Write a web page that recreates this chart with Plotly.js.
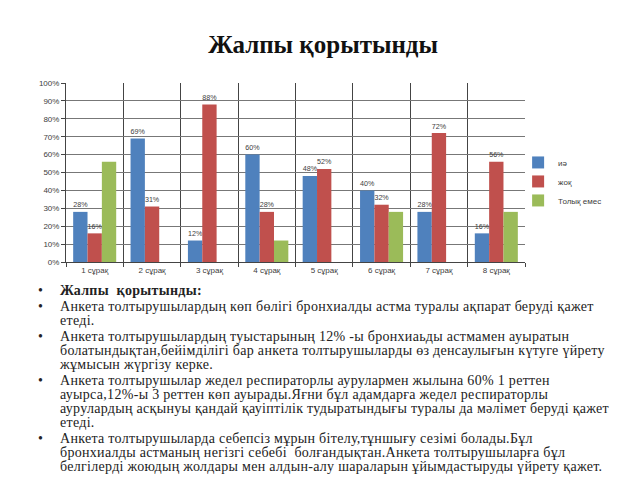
<!DOCTYPE html>
<html>
<head>
<meta charset="utf-8">
<script src="https://cdn.plot.ly/plotly-3.0.1.min.js"></script>
<style>
  html, body { margin: 0; padding: 0; background: #fff; }
  #wrap { position: relative; width: 640px; height: 480px; overflow: hidden; }
  #chart { position: absolute; left: 0; top: 0; width: 640px; height: 480px; }
  #notes { position: absolute; left: 38px; top: 284px; width: 600px;
           font-family: "Liberation Serif", "DejaVu Serif", serif; font-size: 14px;
           letter-spacing: 0.3px; line-height: 14px; color: #222; }
  #notes .item { position: relative; padding-left: 22px; margin-bottom: 2px; white-space: nowrap; }
  #notes .item:before { content: "•"; position: absolute; left: 0; top: 0; }
</style>
</head>
<body>
<div id="wrap">
  <div id="chart"></div>
  <div id="notes"></div>
</div>
<script>
const categories = ["1 сұрақ", "2 сұрақ", "3 сұрақ", "4 сұрақ", "5 сұрақ", "6 сұрақ", "7 сұрақ", "8 сұрақ"];
const seriesNames = ["иә", "жоқ", "Толық емес"];
const yesValues = [0.28, 0.69, 0.12, 0.60, 0.48, 0.40, 0.28, 0.16];
const noValues = [0.16, 0.31, 0.88, 0.28, 0.52, 0.32, 0.72, 0.56];
const partialValues = [0.56, null, null, 0.12, null, 0.28, null, 0.28];
const titleText = "Жалпы қорытынды";
const notesLines = [
  ["<b>Жалпы&nbsp; қорытынды:</b>"],
  ["Анкета толтырушылардың көп бөлігі бронхиалды астма туралы ақпарат беруді қажет", "етеді."],
  ["Анкета толтырушылардың туыстарының 12% -ы бронхиаьды астмамен ауыратын", "болатындықтан,бейімділігі бар анкета толтырушыларды өз денсаулығын күтуге үйрету", "жұмысын жүргізу керке."],
  ["Анкета толтырушылар жедел респираторлы аурулармен жылына 60% 1 реттен", "ауырса,12%-ы 3 реттен көп ауырады.Яғни бұл адамдарға жедел респираторлы", "аурулардың асқынуы қандай қауіптілік тудыратындығы туралы да мәлімет беруді қажет", "етеді."],
  ["Анкета толтырушыларда себепсіз мұрын бітелу,тұншығу сезімі болады.Бұл", "бронхиалды астманың негізгі себебі&nbsp; болғандықтан.Анкета толтырушыларға бұл", "белгілерді жоюдың жолдары мен алдын-алу шараларын ұйымдастыруды үйрету қажет."]
];

const colors = ["#4F81BD", "#C0504D", "#9BBB59"];
const pct = v => v == null ? "" : Math.round(v * 100) + "%";
const smallFont = { family: "Liberation Sans, Arial, sans-serif", size: 8, color: "#404040" };
const labelFont = { family: "Liberation Sans, Arial, sans-serif", size: 9, color: "#404040" };

const traces = [yesValues, noValues, partialValues].map((vals, i) => ({
  type: "bar",
  name: seriesNames[i],
  x: categories,
  y: vals,
  marker: { color: colors[i], line: { width: 0 } },
  text: i < 2 ? vals.map(pct) : vals.map(() => ""),
  textposition: "outside",
  textfont: labelFont,
  cliponaxis: false,
  hoverinfo: "skip"
}));

const layout = {
  width: 640, height: 480,
  paper_bgcolor: "rgba(0,0,0,0)",
  plot_bgcolor: "#fff",
  margin: { l: 66, r: 115, t: 83, b: 218 },
  title: { text: "<b>" + titleText + "</b>", x: 0.505, xanchor: "center", y: 0.908, yanchor: "middle",
           font: { family: "Liberation Serif, serif", size: 25, color: "#111" } },
  barmode: "group",
  bargap: 0.25,
  bargroupgap: 0,
  showlegend: true,
  legend: { x: 0.985, y: 0.45, xanchor: "left", yanchor: "middle",
            font: smallFont, itemwidth: 30, tracegroupgap: 0, bgcolor: "rgba(0,0,0,0)" },
  xaxis: {
    type: "category",
    tickson: "boundaries",
    showgrid: true, gridcolor: "#444", gridwidth: 1,
    showline: true, linecolor: "#444",
    ticks: "outside", ticklen: 4, tickcolor: "#444",
    tickfont: smallFont,
    zeroline: false
  },
  yaxis: {
    range: [0, 1],
    dtick: 0.1,
    tickformat: ".0%",
    showgrid: true, gridcolor: "#777", gridwidth: 1,
    showline: true, linecolor: "#444",
    ticks: "outside", ticklen: 4, tickcolor: "#444",
    tickfont: smallFont,
    zeroline: false
  }
};

Plotly.newPlot("chart", traces, layout, { displayModeBar: false, staticPlot: true });

const notes = document.getElementById("notes");
notesLines.forEach(lines => {
  const d = document.createElement("div");
  d.className = "item";
  d.innerHTML = lines.join("<br>");
  notes.appendChild(d);
});
</script>
</body>
</html>
